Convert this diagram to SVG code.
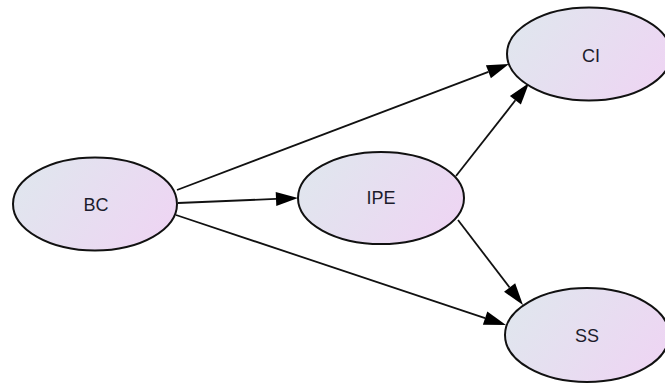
<svg xmlns="http://www.w3.org/2000/svg" width="665" height="384" viewBox="0 0 665 384">
<style>
.node ellipse{fill:url(#g);stroke:#111;stroke-width:2}
.node text{font-family:"Liberation Sans",Arial,sans-serif;font-size:18px;fill:#1c1c2c;text-anchor:middle}
.edge{stroke:#111;stroke-width:1.8;fill:none;marker-end:url(#arr)}
</style>
<defs>
<linearGradient id="g" x1="0" y1="0.3" x2="1" y2="0.7">
<stop offset="0" stop-color="#e0e6ee"/>
<stop offset="1" stop-color="#eed5f3"/>
</linearGradient>
<marker id="arr" markerUnits="userSpaceOnUse" markerWidth="24" markerHeight="18" viewBox="0 -9 24 18" refX="0" refY="0" orient="auto" overflow="visible">
<path d="M0,-7 L22,0 L0,7 z" fill="#000"/>
</marker>
</defs>
<g id="connectors">
<path class="edge" d="M177,190 L488.4,71.8"/>
<path class="edge" d="M178,203 L276,198.9"/>
<path class="edge" d="M176,215 L485.1,318.1"/>
<path class="edge" d="M456,176 L515.4,100.3"/>
<path class="edge" d="M458,220 L509.6,287.5"/>
</g>
<g id="BC" class="node"><ellipse cx="95" cy="204" rx="82" ry="46.5"/><text x="96" y="211">BC</text></g>
<g id="IPE" class="node"><ellipse cx="381" cy="198" rx="83" ry="46"/><text x="381" y="204">IPE</text></g>
<g id="CI" class="node"><ellipse cx="589" cy="54" rx="82" ry="46.5"/><text x="591" y="61.5">CI</text></g>
<g id="SS" class="node"><ellipse cx="587" cy="335" rx="82" ry="47"/><text x="587" y="341.5">SS</text></g>
</svg>
